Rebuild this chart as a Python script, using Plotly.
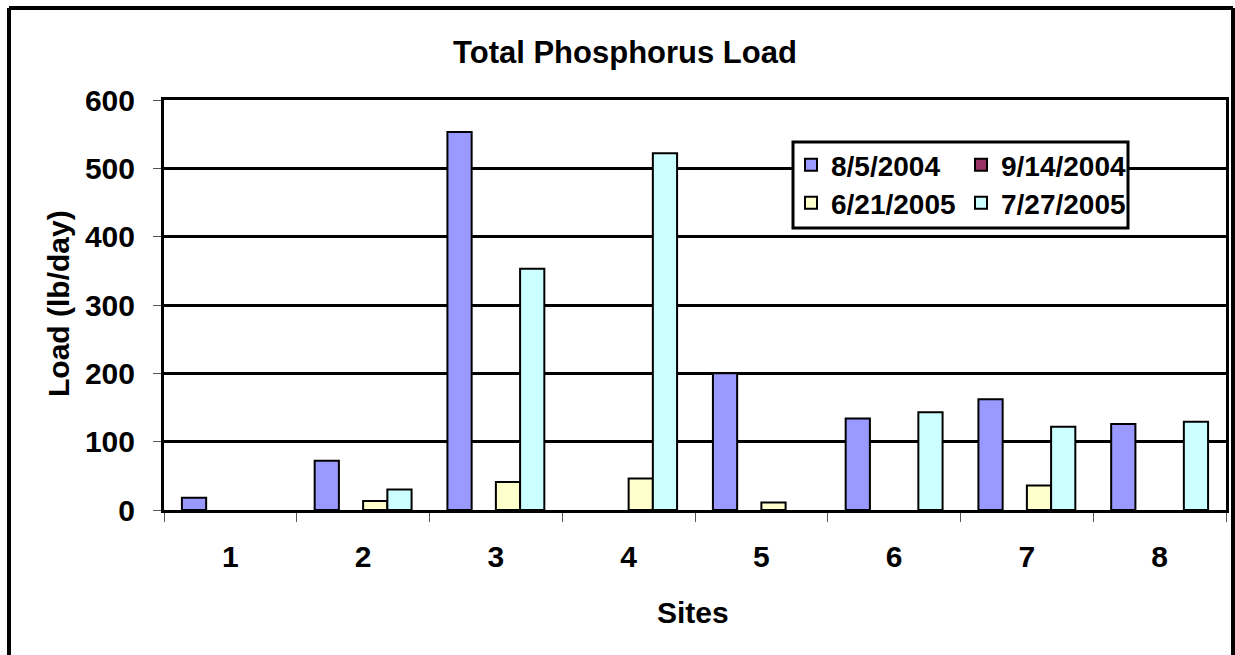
import plotly.graph_objects as go

sites = ["1", "2", "3", "4", "5", "6", "7", "8"]
series_names = ["8/5/2004", "9/14/2004", "6/21/2005", "7/27/2005"]
load_2004_08_05 = [18, 72, 553, None, 200, 134, 162, 126]
load_2004_09_14 = [None, None, None, None, None, None, None, None]
load_2005_06_21 = [None, 13, 41, 46, 11, None, 36, None]
load_2005_07_27 = [None, 30, 353, 522, None, 143, 122, 129]
y_ticks = [0, 100, 200, 300, 400, 500, 600]

colors = ["#9999FF", "#993366", "#FFFFCC", "#CCFFFF"]
legends = ["legend", "legend", "legend2", "legend2"]
values = [load_2004_08_05, load_2004_09_14, load_2005_06_21, load_2005_07_27]

FONT = "Arial, Liberation Sans, sans-serif"

fig = go.Figure()
for name, vals, col, lg in zip(series_names, values, colors, legends):
    fig.add_trace(go.Bar(
        x=sites, y=vals, name=name, legend=lg,
        marker=dict(color=col, line=dict(color="black", width=2)),
    ))

# page body margin is removed below, so screen px == figure px
FW, FH = 1235, 655
# plot area in screen px
L, R, T, B = 164, 1226, 100, 510
W, H = R - L, B - T
def px(x):
    return (x - L) / W
def py(y):
    return (B - y) / H

leg_common = dict(orientation="h", entrywidth=125, bgcolor="rgba(0,0,0,0)",
                  borderwidth=0, font=dict(family=FONT, size=28, color="black", weight="bold"),
                  xanchor="left", yanchor="middle", itemclick=False)

fig.update_layout(
    width=FW, height=FH,
    margin=dict(l=L, r=FW - R, t=T, b=FH - B, pad=0),
    paper_bgcolor="white", plot_bgcolor="white",
    barmode="group", bargap=0.27, bargroupgap=0,
    font=dict(family=FONT, size=30, color="black", weight="bold"),
    title=dict(text="Total Phosphorus Load", x=625 / FW, y=1 - 52 / FH,
               xanchor="center", yanchor="middle",
               font=dict(family=FONT, size=31, color="black", weight="bold")),
    legend=dict(x=px(791), y=py(165), **leg_common),
    legend2=dict(x=px(791), y=py(203), **leg_common),
    xaxis=dict(type="category", showline=True, linewidth=3, linecolor="black", mirror=True,
               ticks="outside", tickson="boundaries", ticklen=9, tickwidth=1, tickcolor="#555",
               showgrid=False, ticklabelstandoff=18, automargin=False,
               tickfont=dict(family=FONT, size=30, color="black", weight="bold")),
    yaxis=dict(range=[0, 600], tickvals=y_ticks, showline=True, linewidth=3, linecolor="black",
               mirror=True, ticks="outside", ticklen=8, tickwidth=1, tickcolor="#555",
               showgrid=True, gridcolor="black", gridwidth=3, zeroline=False,
               ticklabelstandoff=12, automargin=False,
               tickfont=dict(family=FONT, size=30, color="black", weight="bold")),
    showlegend=True,
)

# chart border (top, left, right; bottom lies below the visible page)
border = dict(color="black", width=4)
fig.add_shape(type="line", xref="paper", yref="paper",
              x0=px(9), x1=px(1233), y0=py(8), y1=py(8), line=border, layer="above")
fig.add_shape(type="line", xref="paper", yref="paper",
              x0=px(9), x1=px(9), y0=py(8), y1=py(720), line=border, layer="above")
fig.add_shape(type="line", xref="paper", yref="paper",
              x0=px(1233), x1=px(1233), y0=py(8), y1=py(720), line=border, layer="above")
# legend box
fig.add_shape(type="rect", xref="paper", yref="paper",
              x0=px(793), x1=px(1128), y0=py(228), y1=py(142),
              line=dict(color="black", width=3), fillcolor="white", layer="above")

fig.add_annotation(text="Load (lb/day)", xref="paper", yref="paper",
                   x=px(58), y=py(304), textangle=-90, showarrow=False,
                   xanchor="center", yanchor="middle",
                   font=dict(family=FONT, size=30, color="black", weight="bold"))
fig.add_annotation(text="Sites", xref="paper", yref="paper",
                   x=px(693), y=py(612), showarrow=False,
                   xanchor="center", yanchor="middle",
                   font=dict(family=FONT, size=30, color="black", weight="bold"))

fig.write_html(
    "out.html",
    config={"displayModeBar": False},
    post_script="document.body.style.margin='0';document.body.style.overflow='hidden';",
)
